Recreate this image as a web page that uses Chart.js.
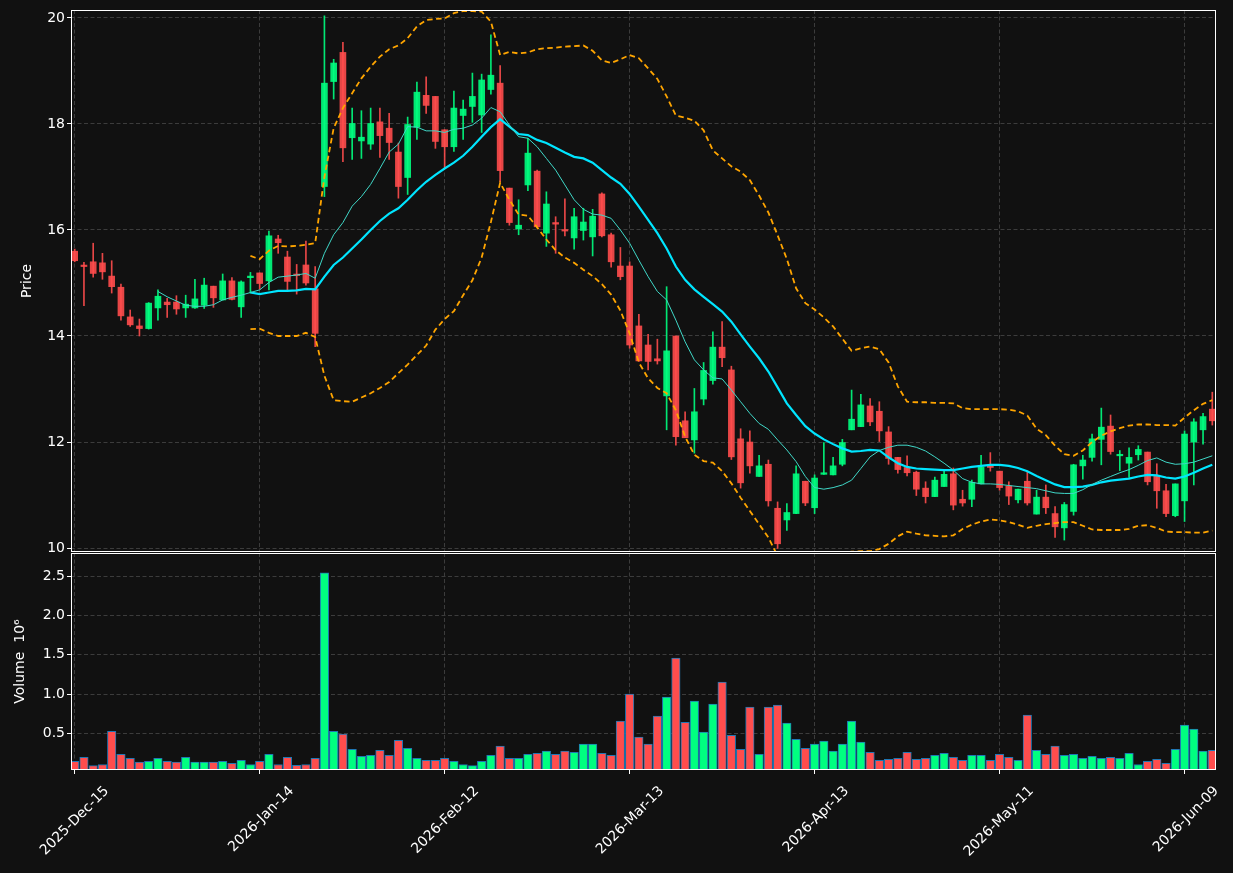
<!DOCTYPE html>
<html><head><meta charset="utf-8">
<script src="https://cdn.jsdelivr.net/npm/chart.js@4.4.1/dist/chart.umd.min.js"></script>
<style>
html,body{margin:0;padding:0;background:#111111;overflow:hidden;}
#wrap{position:relative;width:1233px;height:873px;background:#111111;}
.box{position:absolute;left:0;width:1233px;}
</style></head><body>
<div id="wrap">
<div class="box" style="top:0;height:553px"><canvas id="c1" width="1233" height="553"></canvas></div>
<div class="box" style="top:553px;height:320px"><canvas id="c2" width="1233" height="320"></canvas></div>
</div>
<script>
const dates = ["2025-Dec-15","2025-Dec-16","2025-Dec-17","2025-Dec-18","2025-Dec-19","2025-Dec-22","2025-Dec-23","2025-Dec-24","2025-Dec-26","2025-Dec-29",
"2025-Dec-30","2025-Dec-31","2026-Jan-02","2026-Jan-05","2026-Jan-06","2026-Jan-07","2026-Jan-08","2026-Jan-09","2026-Jan-12","2026-Jan-13",
"2026-Jan-14","2026-Jan-15","2026-Jan-16","2026-Jan-20","2026-Jan-21","2026-Jan-22","2026-Jan-23","2026-Jan-26","2026-Jan-27","2026-Jan-28",
"2026-Jan-29","2026-Jan-30","2026-Feb-02","2026-Feb-03","2026-Feb-04","2026-Feb-05","2026-Feb-06","2026-Feb-09","2026-Feb-10","2026-Feb-11",
"2026-Feb-12","2026-Feb-13","2026-Feb-17","2026-Feb-18","2026-Feb-19","2026-Feb-20","2026-Feb-23","2026-Feb-24","2026-Feb-25","2026-Feb-26",
"2026-Feb-27","2026-Mar-02","2026-Mar-03","2026-Mar-04","2026-Mar-05","2026-Mar-06","2026-Mar-09","2026-Mar-10","2026-Mar-11","2026-Mar-12",
"2026-Mar-13","2026-Mar-16","2026-Mar-17","2026-Mar-18","2026-Mar-19","2026-Mar-20","2026-Mar-23","2026-Mar-24","2026-Mar-25","2026-Mar-26",
"2026-Mar-27","2026-Mar-30","2026-Mar-31","2026-Apr-01","2026-Apr-02","2026-Apr-06","2026-Apr-07","2026-Apr-08","2026-Apr-09","2026-Apr-10",
"2026-Apr-13","2026-Apr-14","2026-Apr-15","2026-Apr-16","2026-Apr-17","2026-Apr-20","2026-Apr-21","2026-Apr-22","2026-Apr-23","2026-Apr-24",
"2026-Apr-27","2026-Apr-28","2026-Apr-29","2026-Apr-30","2026-May-01","2026-May-04","2026-May-05","2026-May-06","2026-May-07","2026-May-08",
"2026-May-11","2026-May-12","2026-May-13","2026-May-14","2026-May-15","2026-May-18","2026-May-19","2026-May-20","2026-May-21","2026-May-22",
"2026-May-26","2026-May-27","2026-May-28","2026-May-29","2026-Jun-01","2026-Jun-02","2026-Jun-03","2026-Jun-04","2026-Jun-05","2026-Jun-08",
"2026-Jun-09","2026-Jun-10","2026-Jun-11","2026-Jun-12"];

const opens = [15.60,15.33,15.40,15.38,15.13,14.92,14.36,14.19,14.14,14.53,
14.64,14.64,14.53,14.53,14.58,14.94,14.68,15.04,14.55,15.10,
15.19,15.04,15.83,15.49,15.16,15.34,14.89,16.82,18.80,19.35,
17.74,17.68,17.62,18.04,17.92,17.47,16.99,17.94,18.54,18.52,
17.89,17.57,18.16,18.33,18.17,18.65,18.77,16.79,16.02,16.85,
17.11,15.94,16.14,16.00,15.85,15.99,15.87,16.68,15.91,15.32,
15.32,14.19,13.83,13.57,12.87,14.00,12.40,12.04,12.81,13.16,
13.79,13.36,12.06,12.00,11.35,11.58,10.75,10.53,10.65,11.26,
10.76,11.39,11.38,11.58,12.23,12.29,12.68,12.58,12.19,11.71,
11.52,11.43,11.13,10.97,11.16,11.40,10.92,10.92,11.21,11.55,
11.45,11.17,10.91,11.26,10.64,10.96,10.65,10.38,10.69,11.55,
11.71,12.05,12.30,11.74,11.60,11.76,11.81,11.36,11.08,10.61,
10.89,12.00,12.23,12.62];
const highs = [15.64,15.39,15.75,15.56,15.42,14.98,14.49,14.32,14.63,14.87,
14.71,14.76,14.77,15.07,15.09,14.94,15.17,15.10,15.04,15.20,
15.19,15.98,15.90,15.60,15.35,15.79,15.31,20.04,19.22,19.54,
18.30,18.25,18.30,18.30,18.20,17.64,18.13,18.79,18.89,18.52,
17.89,18.62,18.45,18.96,18.94,19.68,19.10,16.79,16.57,17.73,
17.13,16.72,16.25,16.59,16.41,16.41,16.39,16.70,15.94,15.67,
15.40,14.41,14.03,13.94,14.93,14.00,12.57,13.01,13.50,14.08,
14.27,13.43,12.25,12.21,11.75,11.66,10.87,10.84,11.55,11.26,
11.38,11.99,11.71,12.05,12.98,12.90,12.82,12.76,12.29,11.71,
11.74,11.45,11.25,11.34,11.46,11.51,11.09,11.28,11.75,11.80,
11.45,11.25,11.11,11.45,11.09,11.19,10.78,10.86,11.58,11.75,
12.15,12.64,12.51,11.84,11.89,11.93,11.81,11.59,11.20,11.21,
12.21,12.44,12.54,12.94];
const lows = [15.40,14.57,15.11,15.07,14.81,14.30,14.18,14.00,14.13,14.30,
14.35,14.41,14.35,14.52,14.52,14.54,14.68,14.68,14.35,14.81,
14.88,14.87,15.56,14.87,14.79,14.96,13.80,16.63,18.47,17.29,
17.33,17.35,17.52,17.37,17.33,16.60,16.67,17.71,18.20,17.54,
17.16,17.48,17.71,18.03,17.84,18.56,16.91,16.09,15.91,16.74,
16.04,15.69,15.56,15.89,15.64,15.81,15.51,15.87,15.30,15.06,
13.77,13.52,13.36,13.47,12.23,11.94,12.08,11.79,12.70,13.09,
13.42,11.67,11.13,11.41,11.35,10.79,9.99,10.33,10.65,10.80,
10.65,11.39,11.38,11.55,12.23,12.29,12.31,12.01,11.58,11.41,
11.36,10.99,10.85,10.97,11.16,10.72,10.79,10.78,11.21,11.45,
11.09,10.82,10.85,10.81,10.64,10.65,10.20,10.15,10.62,11.30,
11.64,11.57,11.77,11.46,11.33,11.66,11.19,10.75,10.59,10.59,
10.50,11.19,11.96,12.32];
const closes = [15.42,15.31,15.18,15.21,14.93,14.38,14.21,14.14,14.62,14.75,
14.59,14.51,14.60,14.70,14.96,14.72,15.04,14.69,15.02,15.13,
14.99,15.89,15.76,15.03,15.14,15.00,14.05,18.77,19.15,17.55,
18.01,17.75,18.01,17.78,17.65,16.82,17.99,18.60,18.35,17.67,
17.57,18.30,18.28,18.52,18.83,18.92,17.12,16.14,16.09,17.45,
16.06,16.49,16.11,15.98,16.25,16.15,16.26,15.89,15.40,15.12,
13.83,13.53,13.52,13.53,13.72,12.10,12.08,12.57,13.35,13.79,
13.59,11.72,11.23,11.55,11.55,10.89,10.08,10.67,11.40,10.85,
11.32,11.42,11.55,11.99,12.43,12.70,12.38,12.21,11.69,11.48,
11.42,11.11,10.97,11.28,11.39,10.81,10.85,11.24,11.53,11.52,
11.14,10.98,11.11,10.85,10.96,10.76,10.40,10.82,11.57,11.66,
12.06,12.28,11.82,11.76,11.71,11.86,11.25,11.08,10.65,11.21,
12.15,12.38,12.48,12.40];
// volume in millions
const volumes = [0.142,0.193,0.086,0.100,0.525,0.230,0.180,0.130,0.142,0.180,
0.142,0.130,0.193,0.130,0.130,0.130,0.142,0.116,0.155,0.100,
0.142,0.230,0.100,0.193,0.090,0.100,0.180,2.546,0.525,0.490,
0.295,0.206,0.218,0.282,0.218,0.410,0.308,0.180,0.155,0.155,
0.180,0.142,0.100,0.086,0.142,0.218,0.334,0.180,0.180,0.230,
0.244,0.270,0.230,0.270,0.257,0.360,0.360,0.244,0.218,0.653,
0.999,0.449,0.360,0.717,0.960,1.459,0.640,0.909,0.513,0.871,
1.152,0.474,0.295,0.832,0.230,0.832,0.858,0.628,0.423,0.308,
0.360,0.398,0.270,0.360,0.653,0.385,0.257,0.155,0.167,0.180,
0.257,0.167,0.180,0.218,0.244,0.193,0.155,0.218,0.218,0.155,
0.230,0.193,0.155,0.730,0.282,0.230,0.334,0.218,0.230,0.180,
0.206,0.180,0.193,0.180,0.244,0.100,0.142,0.167,0.116,0.295,
0.602,0.551,0.270,0.282];

// 10-period moving average, starting at index 9
const ma10Start = 9;
const ma10 = [14.84,14.74,14.66,14.58,14.56,14.56,14.59,14.68,14.73,14.77,
14.82,14.87,15.01,15.11,15.13,15.15,15.18,15.09,15.56,15.91,
16.14,16.45,16.63,16.86,17.16,17.47,17.62,17.95,17.94,17.87,
17.87,17.84,17.90,17.92,17.98,18.11,18.31,18.23,17.98,17.76,
17.73,17.57,17.35,17.13,16.85,16.57,16.39,16.30,16.28,16.22,
16.00,15.75,15.43,15.12,14.84,14.68,14.30,13.89,13.55,13.36,
13.21,13.19,12.98,12.76,12.54,12.35,12.24,12.04,11.85,11.63,
11.35,11.14,11.11,11.14,11.19,11.28,11.50,11.72,11.84,11.90,
11.94,11.94,11.90,11.83,11.72,11.60,11.47,11.31,11.24,11.21,
11.21,11.20,11.18,11.16,11.14,11.12,11.08,11.04,11.03,11.03,
11.10,11.20,11.28,11.35,11.42,11.48,11.56,11.65,11.70,11.62,
11.58,11.59,11.62,11.68,11.74];
// 20-period moving average and bands, starting at index 19
const ma20Start = 19;
const ma20 = [14.82,14.79,14.82,14.85,14.85,14.86,14.89,14.88,15.12,15.34,
15.48,15.65,15.82,16.00,16.17,16.31,16.41,16.57,16.75,16.91,
17.04,17.16,17.27,17.40,17.57,17.76,17.94,18.09,17.95,17.81,
17.79,17.70,17.64,17.55,17.46,17.38,17.35,17.27,17.13,16.99,
16.87,16.68,16.44,16.19,15.94,15.65,15.31,15.06,14.88,14.74,
14.60,14.46,14.27,14.03,13.80,13.58,13.33,13.03,12.73,12.51,
12.30,12.16,12.05,11.96,11.88,11.82,11.83,11.85,11.84,11.71,
11.60,11.53,11.50,11.49,11.48,11.47,11.47,11.50,11.53,11.55,
11.57,11.57,11.55,11.51,11.45,11.36,11.28,11.20,11.15,11.15,
11.16,11.19,11.24,11.27,11.29,11.31,11.35,11.38,11.37,11.33,
11.31,11.35,11.42,11.50,11.57];
const bandUpper = [15.51,15.45,15.61,15.70,15.69,15.70,15.72,15.75,17.00,17.92,
18.30,18.58,18.86,19.08,19.27,19.41,19.48,19.62,19.84,19.96,
19.98,19.99,20.09,20.13,20.13,20.12,19.93,19.30,19.36,19.33,
19.35,19.41,19.43,19.44,19.46,19.47,19.48,19.38,19.20,19.15,
19.22,19.30,19.24,19.05,18.85,18.52,18.16,18.12,18.06,17.88,
17.50,17.35,17.20,17.10,16.94,16.65,16.33,15.90,15.45,14.90,
14.62,14.50,14.35,14.18,13.95,13.72,13.77,13.80,13.75,13.50,
13.05,12.76,12.75,12.75,12.74,12.74,12.73,12.64,12.62,12.62,
12.62,12.62,12.61,12.58,12.50,12.25,12.13,11.93,11.77,11.74,
11.84,12.00,12.12,12.20,12.26,12.31,12.33,12.33,12.32,12.32,
12.31,12.46,12.60,12.72,12.79];
const bandLower = [14.13,14.14,14.06,14.00,14.00,14.00,14.06,13.98,13.25,12.79,
12.77,12.76,12.84,12.92,13.02,13.13,13.30,13.46,13.64,13.82,
14.12,14.32,14.47,14.77,15.05,15.48,16.15,16.89,16.57,16.29,
16.27,16.05,15.82,15.62,15.48,15.38,15.25,15.13,14.98,14.78,
14.48,14.05,13.50,13.20,13.02,12.92,12.60,12.10,11.76,11.64,
11.61,11.45,11.22,10.95,10.70,10.45,10.20,9.85,9.60,9.45,
9.40,9.45,9.60,9.75,9.90,9.93,9.94,9.94,9.98,10.08,
10.22,10.31,10.27,10.24,10.23,10.22,10.24,10.36,10.44,10.50,
10.54,10.52,10.49,10.44,10.38,10.42,10.45,10.47,10.49,10.49,
10.42,10.35,10.34,10.34,10.34,10.36,10.42,10.43,10.38,10.31,
10.30,10.30,10.29,10.29,10.33];

const priceTicks = [10, 12, 14, 16, 18, 20];
const volumeTicks = [0.5, 1.0, 1.5, 2.0, 2.5];
const dateTickIdx = [0, 20, 40, 60, 80, 100, 120];

// ---------- styling ----------
Chart.defaults.font.family = "'DejaVu Sans', sans-serif";
Chart.defaults.color = '#ffffff';
Chart.defaults.animation = false;
const GRID = '#3c3c3c';
const GRID_DASH = [4, 2.5];
const UP = 'rgba(0,255,128,0.9)', DOWN = 'rgba(255,77,77,0.9)';
const UPV = '#00ff80', DOWNV = '#ff4d4d';
const candleCol = closes.map((c, i) => c >= opens[i] ? UP : DOWN);
const volCol = closes.map((c, i) => c >= opens[i] ? UPV : DOWNV);
const XMIN = -0.4, XMAX = 123.4;

const frame = {
  id: 'frame',
  afterDraw(c) {
    const a = c.chartArea, ctx = c.ctx;
    ctx.save();
    ctx.strokeStyle = '#ffffff';
    ctx.lineWidth = 1;
    ctx.strokeRect(Math.round(a.left) + 0.5, Math.round(a.top) + 0.5,
      Math.round(a.right - a.left) - 1, Math.round(a.bottom - a.top) - 1);
    ctx.restore();
  }
};
const noPad = s => { s.paddingTop = 0; s.paddingBottom = 0; s.paddingLeft = 0; s.paddingRight = 0; };

const series = (arr, start) => arr.map((v, k) => ({x: k + start, y: v}));
const lineDs = (data, color, width, dash) => ({
  type: 'line', data, borderColor: color, borderWidth: width, borderDash: dash || [],
  pointRadius: 0, tension: 0, fill: false, order: 1
});

new Chart(document.getElementById('c1'), {
  data: {
    datasets: [
      {type: 'bar', data: lows.map((l, i) => ({x: i, y: [l, highs[i]]})), backgroundColor: candleCol,
        barThickness: 1, grouped: false, order: 4},
      {type: 'bar', data: opens.map((o, i) => ({x: i, y: [o, closes[i]]})), backgroundColor: candleCol,
        barThickness: 6, grouped: false, minBarLength: 1.5, order: 3},
      lineDs(series(ma10, ma10Start), '#40d8c8', 1),
      lineDs(series(ma20, ma20Start), '#00e5ff', 2.2),
      lineDs(series(bandUpper, ma20Start), '#ffa500', 1.8, [5.5, 3.5]),
      lineDs(series(bandLower, ma20Start), '#ffa500', 1.8, [5.5, 3.5])
    ]
  },
  options: {
    responsive: false,
    devicePixelRatio: 1,
    layout: {autoPadding: false, padding: {top: 10, right: 17, left: 0, bottom: 0}},
    plugins: {legend: {display: false}, tooltip: {enabled: false}},
    scales: {
      x: {
        type: 'linear', min: XMIN, max: XMAX, offset: false,
        afterBuildTicks: s => { s.ticks = dateTickIdx.map(v => ({value: v})); },
        ticks: {display: false},
        grid: {color: GRID, drawTicks: false, offset: false},
        border: {display: false, dash: GRID_DASH},
        afterFit: s => { s.height = 1; noPad(s); }
      },
      y: {
        type: 'linear', min: 9.925, max: 20.15,
        afterBuildTicks: s => { s.ticks = priceTicks.map(v => ({value: v})); },
        ticks: {color: '#ffffff', font: {size: 14}, padding: 2, callback: v => String(v)},
        grid: {color: GRID, tickColor: '#ffffff', tickLength: 4, tickBorderDash: []},
        border: {display: false, dash: GRID_DASH},
        title: {display: true, text: 'Price', color: '#ffffff', font: {size: 14}, padding: {top: 18.6, bottom: 0}},
        afterFit: s => { s.width = 71; noPad(s); }
      }
    }
  },
  plugins: [frame]
});

new Chart(document.getElementById('c2'), {
  data: {
    datasets: [
      {type: 'bar', data: volumes.map((v, i) => ({x: i, y: v})), backgroundColor: volCol,
        borderColor: '#1f77b4', borderWidth: 1, borderSkipped: false, barThickness: 8.5, grouped: false}
    ]
  },
  options: {
    responsive: false,
    devicePixelRatio: 1,
    layout: {autoPadding: false, padding: {top: 0, right: 17, left: 0, bottom: 0}},
    plugins: {legend: {display: false}, tooltip: {enabled: false}},
    scales: {
      x: {
        type: 'linear', min: XMIN, max: XMAX, offset: false,
        afterBuildTicks: s => { s.ticks = dateTickIdx.map(v => ({value: v})); },
        ticks: {color: '#ffffff', font: {size: 14}, minRotation: 45, maxRotation: 45, autoSkip: false,
          padding: 9, labelOffset: 32, callback: v => dates[v]},
        grid: {color: GRID, tickColor: '#ffffff', tickLength: 4, tickBorderDash: [], offset: false},
        border: {display: false, dash: GRID_DASH},
        afterFit: s => { s.height = 103; noPad(s); }
      },
      y: {
        type: 'linear', min: 0.03, max: 2.8,
        afterBuildTicks: s => { s.ticks = volumeTicks.map(v => ({value: v})); },
        ticks: {color: '#ffffff', font: {size: 14}, padding: 2, callback: v => v.toFixed(1)},
        grid: {color: GRID, tickColor: '#ffffff', tickLength: 4, tickBorderDash: []},
        border: {display: false, dash: GRID_DASH},
        title: {display: true, text: 'Volume  10\u2076', color: '#ffffff', font: {size: 14}, padding: {top: 11.6, bottom: 0}},
        afterFit: s => { s.width = 71; noPad(s); }
      }
    }
  },
  plugins: [frame]
});
</script>
</body></html>
